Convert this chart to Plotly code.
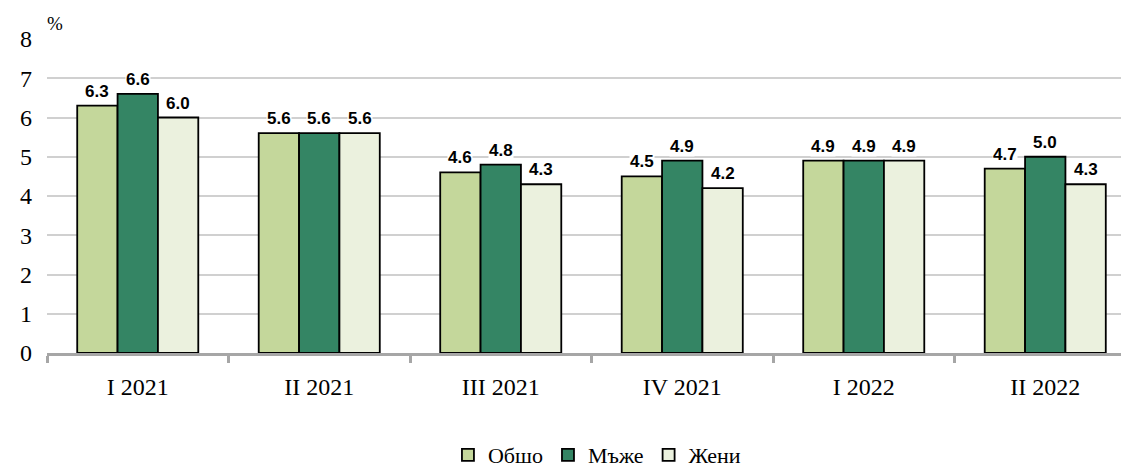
import plotly.graph_objects as go

categories = ["I 2021", "II 2021", "III 2021", "IV 2021", "I 2022", "II 2022"]
total = [6.3, 5.6, 4.6, 4.5, 4.9, 4.7]
men = [6.6, 5.6, 4.8, 4.9, 4.9, 5.0]
women = [6.0, 5.6, 4.3, 4.2, 4.9, 4.3]
y_ticks = [0, 1, 2, 3, 4, 5, 6, 7, 8]

series = [
    ("Обшо", total, "#c4d79b"),
    ("Мъже", men, "#348564"),
    ("Жени", women, "#ebf1de"),
]

W, H = 1160, 500
L, T, R, B = 47, 39, 24, 147
bar_px = 40.4

fig = go.Figure()
annotations = []
for i, (name, vals, color) in enumerate(series):
    fig.add_trace(go.Bar(
        name=name, x=categories, y=vals,
        marker=dict(color=color, line=dict(color="black", width=1.8)),
    ))
    for c, v in zip(categories, vals):
        annotations.append(dict(
            x=c, y=v, xref="x", yref="y", text=f"{v:.1f}", showarrow=False,
            xshift=(i - 1) * bar_px, yanchor="bottom", yshift=4,
            bgcolor="white", borderpad=0,
            font=dict(family="Liberation Sans, Arial", size=17, color="black", weight="bold"),
        ))

annotations.append(dict(text="%", x=0, xref="paper", xanchor="left", xshift=-2,
                        y=1, yref="paper", yanchor="bottom", yshift=3, showarrow=False,
                        font=dict(family="Liberation Serif", size=19, color="black")))

fig.update_layout(
    width=W, height=H,
    margin=dict(l=L, r=R, t=T, b=B),
    paper_bgcolor="white", plot_bgcolor="white",
    barmode="group", bargap=0.333, bargroupgap=0,
    font=dict(family="Liberation Serif, Times New Roman", color="black"),
    legend=dict(orientation="h", x=0.505, xanchor="center", y=-0.325, yanchor="middle",
                font=dict(family="Liberation Serif, Times New Roman", size=22),
                itemwidth=30, tracegroupgap=0),
    showlegend=True,
    annotations=annotations,
)
fig.update_yaxes(range=[0, 8], tickvals=y_ticks, showgrid=True, gridcolor="#d0d0d0", gridwidth=2,
                 tickfont=dict(size=24), ticks="", zeroline=False, showline=False,
                 ticklabelstandoff=14, automargin=False)
fig.update_xaxes(showline=True, linecolor="#a6a6a6", linewidth=2.5, ticks="outside", tickson="boundaries",
                 ticklen=7, tickcolor="#a6a6a6", tickwidth=2.5, tickfont=dict(size=24),
                 ticklabelstandoff=10, automargin=False)

fig.write_html(
    "out.html",
    config={"displayModeBar": False},
    post_script="document.body.style.margin='0px';"
                "document.documentElement.style.overflow='hidden';"
                "document.body.style.overflow='hidden';",
)
